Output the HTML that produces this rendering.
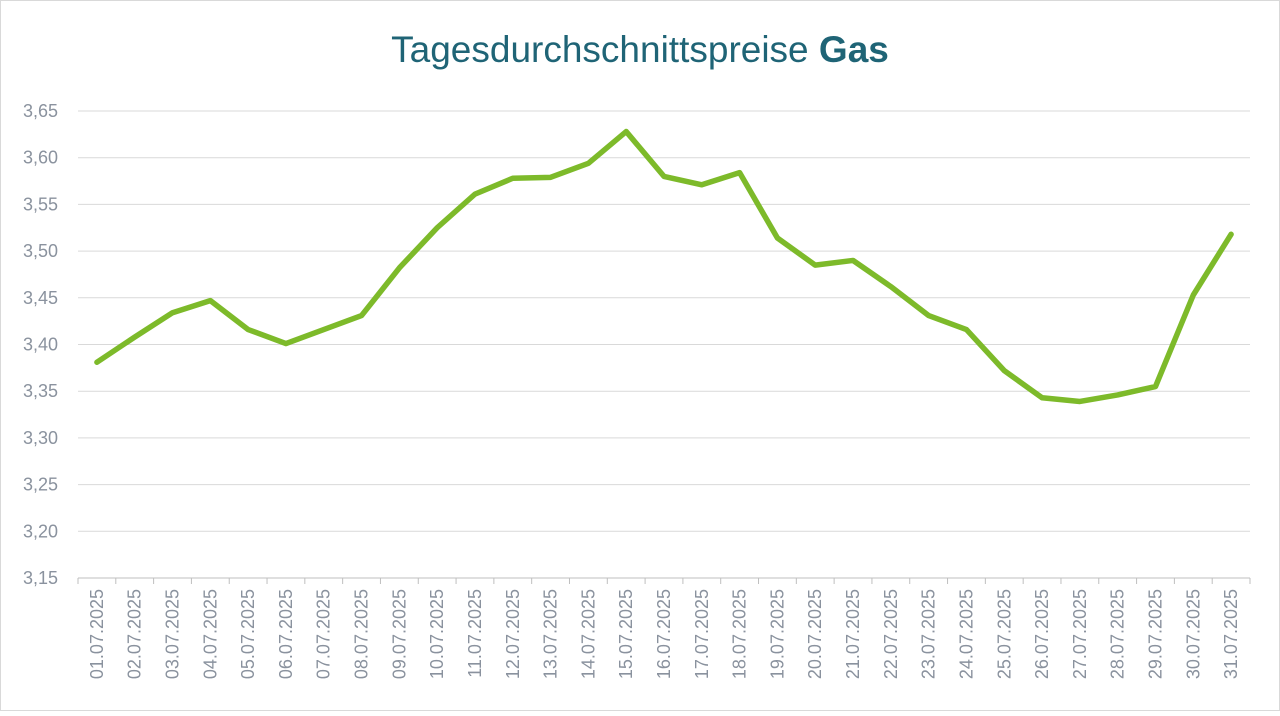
<!DOCTYPE html>
<html><head><meta charset="utf-8"><style>
body{margin:0;background:#fff;font-family:"Liberation Sans",sans-serif}
#wrap{position:relative;width:1280px;height:711px}
</style></head><body>
<div id="wrap">
<svg id="chart" width="1280" height="711">
<rect x="0.5" y="0.5" width="1279" height="710" fill="#fff" stroke="#d9d9d9"/>
<text x="640" y="62" text-anchor="middle" font-size="37" fill="#1f6476" font-family="Liberation Sans, sans-serif"><tspan font-weight="normal">Tagesdurchschnittspreise </tspan><tspan font-weight="bold">Gas</tspan></text>
<g id="grid"></g><g id="xaxis"></g><g id="series"></g>
</svg></div>
<script>
const categories=["01.07.2025","02.07.2025","03.07.2025","04.07.2025","05.07.2025","06.07.2025","07.07.2025","08.07.2025","09.07.2025","10.07.2025","11.07.2025","12.07.2025","13.07.2025","14.07.2025","15.07.2025","16.07.2025","17.07.2025","18.07.2025","19.07.2025","20.07.2025","21.07.2025","22.07.2025","23.07.2025","24.07.2025","25.07.2025","26.07.2025","27.07.2025","28.07.2025","29.07.2025","30.07.2025","31.07.2025"];
const prices=[3.381,3.408,3.434,3.447,3.416,3.401,3.416,3.431,3.482,3.525,3.561,3.578,3.579,3.594,3.628,3.580,3.571,3.584,3.514,3.485,3.490,3.462,3.431,3.416,3.372,3.343,3.339,3.346,3.355,3.453,3.518];
const yTicks=[3.15,3.20,3.25,3.30,3.35,3.40,3.45,3.50,3.55,3.60,3.65];
const NS="http://www.w3.org/2000/svg";
const L=78,R=1250,T=111,B=578,yMin=3.15,yMax=3.65;
const step=(R-L)/categories.length;
const x=i=>L+step*(i+0.5);
const y=v=>B-(v-yMin)/(yMax-yMin)*(B-T);
function mk(t,a,p){const e=document.createElementNS(NS,t);for(const k in a)e.setAttribute(k,a[k]);p.appendChild(e);return e;}
const grid=document.getElementById('grid');
yTicks.forEach(v=>{
 const l=mk('line',{x1:L,x2:R,y1:y(v),y2:y(v),stroke:v===yMin?'#bfbfbf':'#d9d9d9','stroke-width':1},grid);
 
 
 const t=mk('text',{x:58,y:y(v)+6,'text-anchor':'end','font-size':18,fill:'#8a929e'},grid);
 t.textContent=v.toFixed(2).replace('.',',');
 
 
});
const xa=document.getElementById('xaxis');
for(let i=0;i<=categories.length;i++){
 const tk=mk('line',{x1:L+step*i,x2:L+step*i,y1:B,y2:B+6,stroke:'#bfbfbf'},xa);
 
 
}
categories.forEach((c,i)=>{
 const t=mk('text',{x:0,y:0,'text-anchor':'end','font-size':18,fill:'#8a929e',transform:`translate(${x(i)+6},${B+11}) rotate(-90)`},xa);
 t.textContent=c;
 
 
});
const s=document.getElementById('series');
const p=mk('polyline',{points:prices.map((v,i)=>x(i)+','+y(v)).join(' '),fill:'none',stroke:'#7dba2a','stroke-width':5.5,'stroke-linejoin':'round','stroke-linecap':'round'},s);


</script>
</body></html>
